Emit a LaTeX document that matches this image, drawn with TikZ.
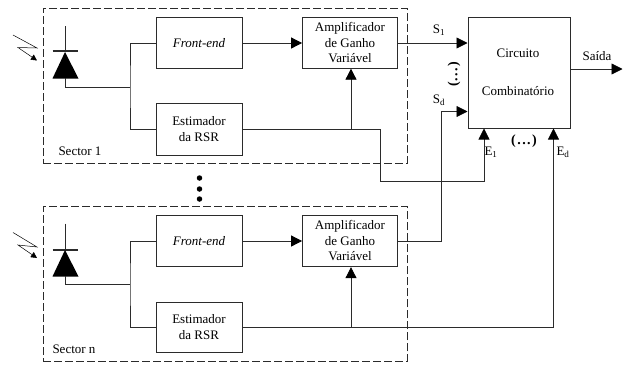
\documentclass[tikz,border=0pt]{standalone}
\usepackage{xcolor}
\usepackage{fontspec}
\setmainfont{Liberation Serif}
\usetikzlibrary{arrows.meta, positioning}
\definecolor{WireGray}{HTML}{2B2B2B}
\tikzset{
  blockbox/.style={draw=WireGray, line width=0.8pt, align=center, inner sep=0pt, font=\fontsize{13}{15.5}\selectfont},
  sectorbox/.style={draw=WireGray, line width=0.8pt, dash pattern=on 8pt off 3pt, inner sep=0pt},
  wire/.style={draw=WireGray, line width=0.8pt},
  sig/.style={wire, -{Triangle[length=11pt,width=11pt,black]}},
  lbl/.style={font=\fontsize{13}{15.5}\selectfont, inner sep=0pt, text=black},
  dotnode/.style={circle, fill=black, minimum size=5.5pt, inner sep=0pt}
}
\begin{document}
\begin{tikzpicture}[x=1pt, y=-1pt]
  \useasboundingbox (0,0) rectangle (627,365);
  % sectors
  \node[sectorbox, minimum width=364pt, minimum height=155pt] (sector1) at (225,85.5) {};
  \node[sectorbox, minimum width=364pt, minimum height=154.5pt] (sectorN) at (225,284) {};
  \node[lbl] (sector1Lbl) at (80,151) {Sector 1};
  \node[lbl] (sectorNLbl) at (74,349) {Sector n};
  % blocks, sector 1
  \node[blockbox, minimum width=86pt, minimum height=50.5pt] (front1) at (199,43) {\itshape Front-end};
  \node[blockbox, minimum width=86pt, minimum height=52pt] (est1) at (199,129) {Estimador\\da RSR};
  \node[blockbox, minimum width=95pt, minimum height=50.5pt] (amp1) at (350,43) {Amplificador\\de Ganho\\Variável};
  % blocks, sector n
  \node[blockbox, minimum width=86pt, minimum height=51pt] (frontN) at (199,241) {\itshape Front-end};
  \node[blockbox, minimum width=86pt, minimum height=50pt] (estN) at (199,327) {Estimador\\da RSR};
  \node[blockbox, minimum width=95pt, minimum height=51.5pt] (ampN) at (350,241) {Amplificador\\de Ganho\\Variável};
  % combiner
  \node[blockbox, minimum width=102pt, minimum height=111pt] (circ) at (519,73) {};
  \node[lbl] (circT) at (518,53) {Circuito};
  \node[lbl] (circB) at (518,91) {Combinatório};
  % diodes
  \coordinate (d1top) at (65,26);
  \coordinate (d1bar) at (65,51);
  \coordinate (d1out) at (65,78);
  \coordinate (j1) at (130,87);
  \draw[wire] (d1top) -- (d1bar);
  \draw[wire, line width=1.2pt] (52.5,51) -- (78,51);
  \fill[black] (65,52) -- (78.5,78.5) -- (52.5,78.5) -- cycle;
  \draw[wire] (d1out) |- (j1);
  \coordinate (dNtop) at (65,223.5);
  \coordinate (dNbar) at (65,250);
  \coordinate (dNout) at (65,276);
  \coordinate (jN) at (130,284.5);
  \draw[wire] (dNtop) -- (dNbar);
  \draw[wire, line width=1.2pt] (52.5,250) -- (78,250);
  \fill[black] (65,250) -- (78.5,276.5) -- (52.5,276.5) -- cycle;
  \draw[wire] (dNout) |- (jN);
  % light
  \draw[line width=0.5pt, -{Triangle[length=6pt,width=6pt]}] (13,35) -- (37,48) -- (18,47.5) -- (37,60.5);
  \draw[line width=0.5pt, -{Triangle[length=6pt,width=6pt]}] (13,232.5) -- (37,247) -- (18,245) -- (37,258);
  % sector 1 wires
  \draw[wire] (front1.west) -| (j1) |- (est1.west);
  \draw[sig] (front1.east) -- (amp1.west);
  \coordinate (tap1) at (351,129);
  \coordinate (turn1) at (380.5,129);
  \draw[wire] (est1.east) -- (turn1);
  \draw[sig] (tap1) -- (tap1 |- amp1.south);
  \coordinate (e1in) at (484,128.5);
  \draw[sig] (turn1) |- (484,181.5) -- (e1in);
  \coordinate (s1in) at (467.5,43);
  \draw[sig] (amp1.east) -- (s1in);
  % sector n wires
  \draw[wire] (frontN.west) -| (jN) |- (estN.west);
  \draw[sig] (frontN.east) -- (ampN.west);
  \coordinate (tapN) at (351,327);
  \coordinate (edIn) at (553.5,128.5);
  \draw[wire] (estN.east) -- (tapN);
  \draw[sig] (tapN) -- (tapN |- ampN.south);
  \draw[sig] (tapN) -| (edIn);
  \coordinate (sdIn) at (467.5,111.5);
  \draw[sig] (ampN.east) -| (441.5,111.5) -- (sdIn);
  % output
  \coordinate (saidaEnd) at (622.5,69);
  \draw[sig] (circ.east |- saidaEnd) -- (saidaEnd);
  % labels
  \node[lbl] (s1Lbl) at (439,30) {S\textsubscript{1}};
  \node[lbl] (sdLbl) at (439,100) {S\textsubscript{d}};
  \node[lbl] (e1Lbl) at (491,152) {E\textsubscript{1}};
  \node[lbl] (edLbl) at (563,152) {E\textsubscript{d}};
  \node[lbl] (saidaLbl) at (597,56) {Saída};
  \node[lbl, font=\fontsize{14}{15.5}\selectfont\bfseries, rotate=90] (dotsV) at (454,74.5) {(\kern1pt.\kern1.5pt.\kern1.5pt.\kern1pt)};
  \node[lbl, font=\fontsize{14}{15.5}\selectfont\bfseries] (dotsH) at (524,141) {(\kern1.5pt.\kern1.5pt.\kern1.5pt.\kern1.5pt)};
  % dots between sectors
  \node[dotnode] (dotA) at (199.5,178) {};
  \node[dotnode] (dotB) at (199.5,189) {};
  \node[dotnode] (dotC) at (199.5,199) {};
\end{tikzpicture}
\end{document}
